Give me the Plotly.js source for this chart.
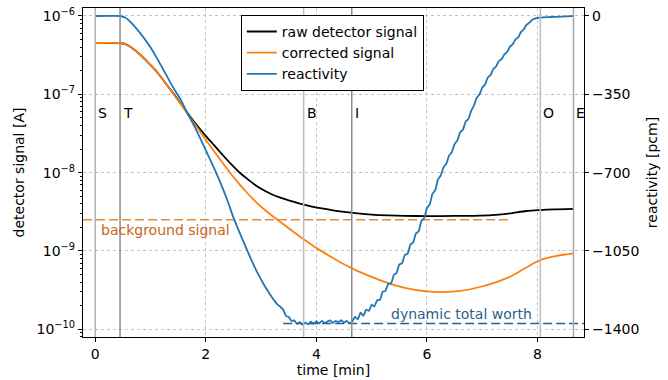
<!DOCTYPE html>
<html>
<head>
<meta charset="utf-8">
<script src="https://cdn.plot.ly/plotly-3.0.1.min.js"></script>
<style>html,body{margin:0;padding:0;background:#fff;}#chart{width:668px;height:380px;}</style>
</head>
<body>
<div id="chart"></div>
<script>
// ---- data ----
const timeRaw = [0,0.45,0.55,0.65,0.8,0.95,1.1,1.25,1.4,1.55,1.69,1.85,2.0,2.15,2.3,2.45,2.6,2.75,2.9,3.05,3.2,3.35,3.5,3.7,3.9,4.1,4.3,4.5,4.7,5.0,5.3,5.6,6.0,6.5,6.96,7.3,7.5,7.8,8.05,8.3,8.65];
const rawSignal = [4.52e-7,4.52e-7,4.37e-7,3.98e-7,3.27e-7,2.57e-7,2.00e-7,1.46e-7,1.06e-7,7.59e-8,5.50e-8,3.94e-8,2.95e-8,2.24e-8,1.70e-8,1.30e-8,1.02e-8,8.32e-9,6.92e-9,5.96e-9,5.27e-9,4.79e-9,4.42e-9,4.03e-9,3.72e-9,3.49e-9,3.30e-9,3.16e-9,3.05e-9,2.92e-9,2.85e-9,2.81e-9,2.79e-9,2.80e-9,2.82e-9,2.92e-9,3.02e-9,3.24e-9,3.33e-9,3.39e-9,3.44e-9];

const timeCorr = [0,0.45,0.55,0.65,0.8,0.95,1.1,1.25,1.4,1.55,1.69,1.85,2.0,2.15,2.3,2.45,2.6,2.75,2.9,3.05,3.2,3.35,3.5,3.7,3.9,4.1,4.3,4.5,4.7,5.0,5.3,5.6,6.0,6.3,6.6,6.96,7.2,7.5,7.75,7.95,8.05,8.3,8.5,8.65];
const corrSignal = [4.52e-7,4.52e-7,4.37e-7,3.98e-7,3.27e-7,2.57e-7,2.00e-7,1.46e-7,1.05e-7,7.50e-8,5.40e-8,3.72e-8,2.63e-8,1.88e-8,1.35e-8,9.77e-9,7.24e-9,5.50e-9,4.27e-9,3.43e-9,2.82e-9,2.34e-9,1.95e-9,1.53e-9,1.22e-9,9.89e-10,8.13e-10,6.76e-10,5.75e-10,4.68e-10,3.89e-10,3.39e-10,3.05e-10,2.99e-10,3.09e-10,3.47e-10,3.89e-10,4.68e-10,5.89e-10,7.08e-10,7.66e-10,8.51e-10,9.02e-10,9.33e-10];

const timeReact = [0,0.45,0.55,0.65,0.8,1.0,1.2,1.4,1.55,1.66,1.8,2.0,2.15,2.27,2.4,2.5,2.65,2.8,2.92,3.04,3.16,3.25,
 3.30,3.35,3.40,3.45,3.50,3.55,3.60,3.65,3.70,3.75,3.80,3.85,3.90,3.95,
 4.00,4.05,4.10,4.15,4.20,4.25,4.30,4.35,4.40,4.45,4.50,4.55,4.60,4.65,4.70,4.75,4.80,4.85,4.90,4.95,
 5.00,5.05,5.10,5.15,5.20,5.25,5.30,5.35,5.40,5.45,5.50,5.55,5.60,5.65,5.70,5.75,5.80,5.85,5.90,5.95,
 6.00,6.05,6.10,6.15,6.20,6.25,6.30,6.35,6.40,6.45,6.50,6.55,6.60,6.65,6.70,6.75,6.80,6.85,6.90,6.95,
 7.00,7.05,7.10,7.15,7.20,7.25,7.30,7.35,7.40,7.45,7.50,7.55,7.60,7.65,7.70,7.75,7.80,7.85,7.90,7.95,
 8.00,8.10,8.20,8.30,8.40,8.50,8.60,8.65];
const reactivity = [0,0,-8,-30,-72,-140,-225,-315,-375,-430,-495,-599,-680,-748,-830,-900,-990,-1076,-1140,-1195,-1243,-1275,
 -1290,-1300,-1312,-1340,-1345,-1362,-1360,-1376,-1368,-1380,-1370,-1378,-1366,-1375,
 -1364,-1374,-1362,-1372,-1365,-1360,-1371,-1362,-1368,-1359,-1370,-1362,-1373,-1364,-1345,-1355,-1325,-1340,-1312,-1318,
 -1290,-1298,-1270,-1268,-1232,-1228,-1196,-1195,-1158,-1148,-1110,-1105,-1068,-1062,-1022,-1012,-972,-962,-916,-903,
 -858,-842,-795,-778,-730,-712,-676,-660,-624,-608,-572,-556,-520,-508,-472,-460,-424,-400,-366,-350,
 -320,-306,-275,-264,-237,-226,-201,-193,-171,-161,-137,-127,-105,-95,-72,-60,-40,-30,-18,-12,
 -9,-6,-5,-4,-3,-2,-1,0];

const backgroundLevel = 2.5e-9;
const backgroundEnd = 7.5;
const dynamicWorth = -1374;
const dynamicStart = 3.4;

const eventNames = ['S','T','B','I','O','E'];
const eventTimes = [0, 0.45, 3.77, 4.64, 8.05, 8.65];
const eventColors = ['#b4b4b4','#8c8c8c','#bdbdbd','#8c8c8c','#bdbdbd','#a6a6a6'];

const xTickVals = [0,2,4,6,8];
const leftTickVals = [1e-10,1e-9,1e-8,1e-7,1e-6];
const leftTickText = ['10<sup>−10</sup>','10<sup>−9</sup>','10<sup>−8</sup>','10<sup>−7</sup>','10<sup>−6</sup>'];
const rightTickVals = [0,-350,-700,-1050,-1400];
const rightTickText = ['0','−350','−700','−1050','−1400'];

// ---- layout helpers ----
const xRange = [-0.22, 8.84];
const yLogRange = [-10.098, -5.898];
const y2Range = [-1434.3, 35.7];
const minorVals = [];
for (let d = -11; d <= -6; d++) for (let m = 2; m <= 9; m++) minorVals.push(m * Math.pow(10, d));

const FONT = 'DejaVu Sans, Verdana, sans-serif';
const gridStyle = {showgrid:true, gridcolor:'#c4c4c4', gridwidth:1, griddash:'3px,3px'};

const traces = [
  {x: timeRaw, y: rawSignal, type:'scatter', mode:'lines', name:'raw detector signal',
   line:{color:'#000000', width:1.8, shape:'spline', smoothing:0.8}, yaxis:'y'},
  {x: timeCorr, y: corrSignal, type:'scatter', mode:'lines', name:'corrected signal',
   line:{color:'#ff7f0e', width:1.8, shape:'spline', smoothing:0.8}, yaxis:'y'},
  {x: [xRange[0], backgroundEnd], y: [backgroundLevel, backgroundLevel], type:'scatter', mode:'lines',
   line:{color:'#e8893a', width:1.4, dash:'9px,4px'}, showlegend:false, hoverinfo:'skip', yaxis:'y'},
  {x: timeReact, y: reactivity, type:'scatter', mode:'lines', name:'reactivity',
   line:{color:'#1f77b4', width:1.8, shape:'spline', smoothing:0.5}, yaxis:'y2'},
  {x: [dynamicStart, xRange[1]], y: [dynamicWorth, dynamicWorth], type:'scatter', mode:'lines',
   line:{color:'#2e5f8a', width:1.4, dash:'9px,4px'}, showlegend:false, hoverinfo:'skip', yaxis:'y2'}
];

const shapes = eventTimes.map((t, i) => ({
  type:'line', xref:'x', yref:'paper', x0:t, x1:t, y0:0, y1:1,
  line:{color:eventColors[i], width:1.5}, layer:'above'
}));

const annotations = eventNames.map((n, i) => ({
  x: eventTimes[i], y: 0.681, xref:'x', yref:'paper', text:n, showarrow:false,
  xanchor:'left', yanchor:'middle', xshift:1, font:{family:FONT, size:14, color:'#000'}
}));
annotations.push({x: 0.07, y: Math.log10(1.85e-9), xref:'x', yref:'y', text:'background signal',
  showarrow:false, xanchor:'left', yanchor:'middle', font:{family:FONT, size:14, color:'#c8651a'}});
annotations.push({x: 5.32, y: -1333, xref:'x', yref:'y2', text:'dynamic total worth',
  showarrow:false, xanchor:'left', yanchor:'middle', font:{family:FONT, size:14, color:'#2e5f8a'}});

const layout = {
  width:668, height:380,
  margin:{l:83, r:84, t:8, b:43, pad:0},
  paper_bgcolor:'#fff', plot_bgcolor:'#fff',
  font:{family:FONT, size:14, color:'#000'},
  showlegend:true,
  legend:{x:0.315, y:0.979, xanchor:'left', yanchor:'top', bgcolor:'#fff',
    bordercolor:'#000', borderwidth:1, font:{family:FONT, size:14, color:'#000'},
    tracegroupgap:0, itemwidth:30},
  xaxis:Object.assign({range:xRange, tickmode:'array', tickvals:xTickVals, ticks:'outside', ticklen:4,
    tickwidth:1, tickcolor:'#000', showline:true, linecolor:'#000', linewidth:1.2, mirror:true,
    zeroline:false, automargin:false,
    title:{text:'time [min]', standoff:4, font:{family:FONT, size:14}}}, gridStyle),
  yaxis:Object.assign({type:'log', range:yLogRange, tickmode:'array', tickvals:leftTickVals, ticktext:leftTickText,
    ticks:'outside', ticklen:4, tickwidth:1, tickcolor:'#000', showline:true, linecolor:'#000', linewidth:1.2,
    mirror:true, zeroline:false, automargin:false,
    minor:{tickmode:'array', tickvals:minorVals, ticks:'outside', ticklen:2, tickwidth:1, tickcolor:'#000', showgrid:false},
    title:{text:'detector signal [A]', standoff:8, font:{family:FONT, size:14}}}, gridStyle),
  yaxis2:{overlaying:'y', side:'right', range:y2Range, tickmode:'array', tickvals:rightTickVals, ticktext:rightTickText,
    ticks:'outside', ticklen:4, tickwidth:1, tickcolor:'#000', showline:true, linecolor:'#000', linewidth:1.2,
    showgrid:false, zeroline:false, automargin:false,
    title:{text:'reactivity [pcm]', standoff:8, font:{family:FONT, size:14}}},
  shapes:shapes,
  annotations:annotations
};

Plotly.newPlot('chart', traces, layout, {displayModeBar:false, staticPlot:true});
</script>
</body>
</html>
